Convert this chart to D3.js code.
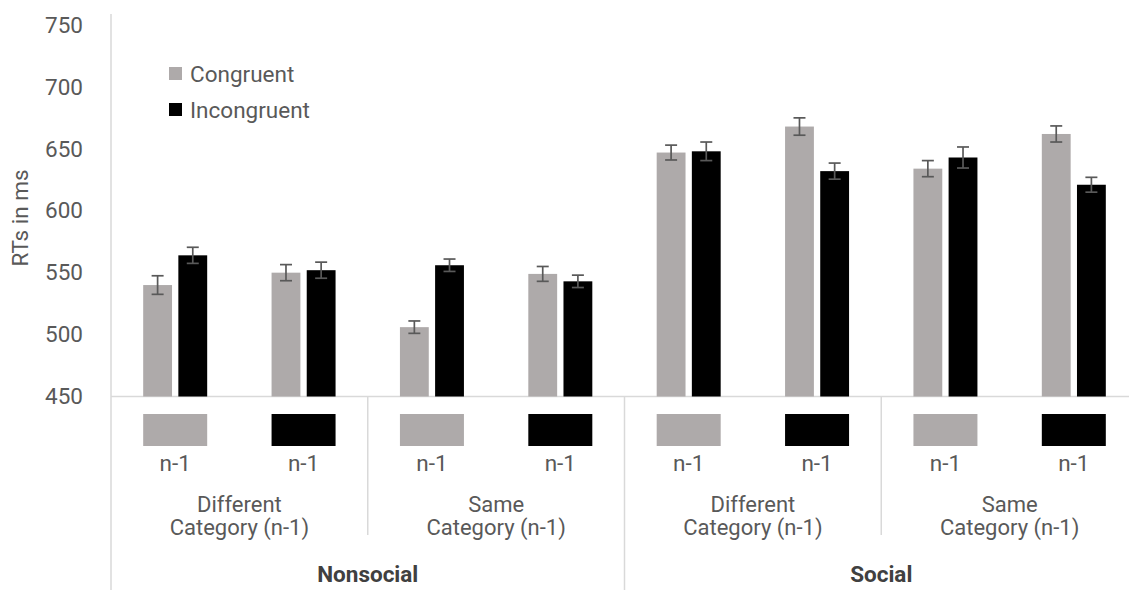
<!DOCTYPE html>
<html lang="en">
<head>
<meta charset="UTF-8">
<title>RTs by trial type</title>
<script src="https://d3js.org/d3.v7.min.js"></script>
<style>
    body { margin: 0; background: #fff; }
    svg { font-family: Roboto, "Noto Sans", sans-serif; }
</style>
</head>
<body>
<div id="chart"></div>
<script>
// values
var domains = ["Nonsocial", "Social"];
var categories = ["Different|Category (n-1)", "Same|Category (n-1)", "Different|Category (n-1)", "Same|Category (n-1)"];
var prevTrial = ["Congruent", "Incongruent", "Congruent", "Incongruent", "Congruent", "Incongruent", "Congruent", "Incongruent"];
var series = ["Congruent", "Incongruent"];
var congruent = [540, 550, 506, 549, 647, 668, 634, 662];
var incongruent = [564, 552, 556, 543, 648, 632, 643, 621];
var congruentErr = [7.5, 6.5, 5, 6, 6, 7, 6.5, 6.5];
var incongruentErr = [6.5, 6.5, 5, 5, 7.5, 6.5, 8.5, 6];
var yTicks = [450, 500, 550, 600, 650, 700, 750];

var width = 1129, height = 590;
var colors = { Congruent: "#aeaaaa", Incongruent: "#000000" };
var textCol = "#595959", lineCol = "#d9d9d9";
var fs = "22.5px";

var svg = d3.select("#chart").append("svg")
    .attr("width", width)
    .attr("height", height);

var plotLeft = 111, plotRight = 1138, plotTop = 25, base = 396.5;

var x = d3.scaleBand()
    .domain(d3.range(8))
    .range([plotLeft, plotRight]);
var xs = d3.scaleBand()
    .domain(series)
    .range([0, 64])
    .paddingInner(0.18);
var y = d3.scaleLinear()
    .domain([450, 750])
    .range([base, plotTop]);

// axis lines
svg.append("line")
    .attr("x1", plotLeft).attr("x2", plotLeft).attr("y1", 14).attr("y2", height)
    .attr("stroke", lineCol).attr("stroke-width", 1.5);
svg.append("line")
    .attr("x1", plotLeft).attr("x2", width).attr("y1", base).attr("y2", base)
    .attr("stroke", lineCol).attr("stroke-width", 1.5);

// y tick labels
var yAxis = svg.append("g")
    .attr("transform", `translate(${plotLeft},0)`)
    .call(d3.axisLeft(y).tickValues(yTicks).tickSize(0).tickPadding(28));
yAxis.select(".domain").remove();
yAxis.selectAll("text")
    .attr("fill", textCol)
    .style("font-size", fs)
    .style("font-family", "Roboto, sans-serif");

svg.append("text")
    .attr("transform", "translate(28,218) rotate(-90)")
    .attr("text-anchor", "middle")
    .attr("fill", textCol)
    .style("font-size", fs)
    .text("RTs in ms");

// bars
var rows = d3.range(8).map(i => ({
    i: i,
    vals: [
        { s: "Congruent", v: congruent[i], e: congruentErr[i] },
        { s: "Incongruent", v: incongruent[i], e: incongruentErr[i] }
    ]
}));

var slot = svg.append("g").selectAll("g")
    .data(rows)
    .join("g")
    .attr("transform", d => `translate(${x(d.i) + x.bandwidth() / 2 - 32},0)`);

slot.selectAll("rect")
    .data(d => d.vals)
    .join("rect")
    .attr("x", d => xs(d.s))
    .attr("width", xs.bandwidth())
    .attr("y", d => y(d.v))
    .attr("height", d => y(450) - y(d.v))
    .attr("fill", d => colors[d.s]);

var err = slot.selectAll("g.err")
    .data(d => d.vals)
    .join("g")
    .attr("class", "err")
    .attr("stroke", "#595959")
    .attr("stroke-width", 1.7);
err.append("line")
    .attr("x1", d => xs(d.s) + xs.bandwidth() / 2)
    .attr("x2", d => xs(d.s) + xs.bandwidth() / 2)
    .attr("y1", d => y(d.v + d.e))
    .attr("y2", d => y(d.v - d.e));
err.selectAll("line.cap")
    .data(d => [{ d: d, v: d.v + d.e }, { d: d, v: d.v - d.e }])
    .join("line")
    .attr("class", "cap")
    .attr("x1", c => xs(c.d.s) + xs.bandwidth() / 2 - 6)
    .attr("x2", c => xs(c.d.s) + xs.bandwidth() / 2 + 6)
    .attr("y1", c => y(c.v))
    .attr("y2", c => y(c.v));

// category table below the axis
svg.append("g").selectAll("rect")
    .data(prevTrial)
    .join("rect")
    .attr("x", (d, i) => x(i) + x.bandwidth() / 2 - 32)
    .attr("y", 414)
    .attr("width", 64)
    .attr("height", 32)
    .attr("fill", d => colors[d]);

svg.append("g").selectAll("text")
    .data(prevTrial)
    .join("text")
    .attr("x", (d, i) => x(i) + x.bandwidth() / 2)
    .attr("y", 471)
    .attr("text-anchor", "middle")
    .attr("fill", textCol)
    .style("font-size", fs)
    .text("n-1");

var catW = x.bandwidth() * 2;
var cat = svg.append("g").selectAll("text")
    .data(categories)
    .join("text")
    .attr("text-anchor", "middle")
    .attr("fill", textCol)
    .style("font-size", "22px");
cat.selectAll("tspan")
    .data((d, i) => d.split("|").map((t, k) => ({ t: t, k: k, i: i })))
    .join("tspan")
    .attr("x", d => plotLeft + catW * d.i + catW / 2)
    .attr("y", d => 512 + d.k * 23)
    .text(d => d.t);

// separators
[1, 3].forEach(k => {
    svg.append("line")
        .attr("x1", plotLeft + catW * k).attr("x2", plotLeft + catW * k)
        .attr("y1", base).attr("y2", 535)
        .attr("stroke", lineCol).attr("stroke-width", 1.5);
});
svg.append("line")
    .attr("x1", plotLeft + catW * 2).attr("x2", plotLeft + catW * 2)
    .attr("y1", base).attr("y2", height)
    .attr("stroke", lineCol).attr("stroke-width", 1.5);

svg.append("g").selectAll("text")
    .data(domains)
    .join("text")
    .attr("x", (d, i) => plotLeft + catW * 2 * i + catW)
    .attr("y", 582)
    .attr("text-anchor", "middle")
    .attr("fill", "#404040")
    .style("font-size", fs)
    .style("font-weight", "bold")
    .text(d => d);

// legend
var leg = svg.append("g").selectAll("g")
    .data(series)
    .join("g")
    .attr("transform", (d, i) => `translate(169,${67 + i * 36})`);
leg.append("rect")
    .attr("width", 13)
    .attr("height", 13)
    .attr("fill", d => colors[d]);
leg.append("text")
    .attr("x", 21)
    .attr("y", 14.5)
    .attr("fill", textCol)
    .style("font-size", fs)
    .text(d => d);
</script>
</body>
</html>
